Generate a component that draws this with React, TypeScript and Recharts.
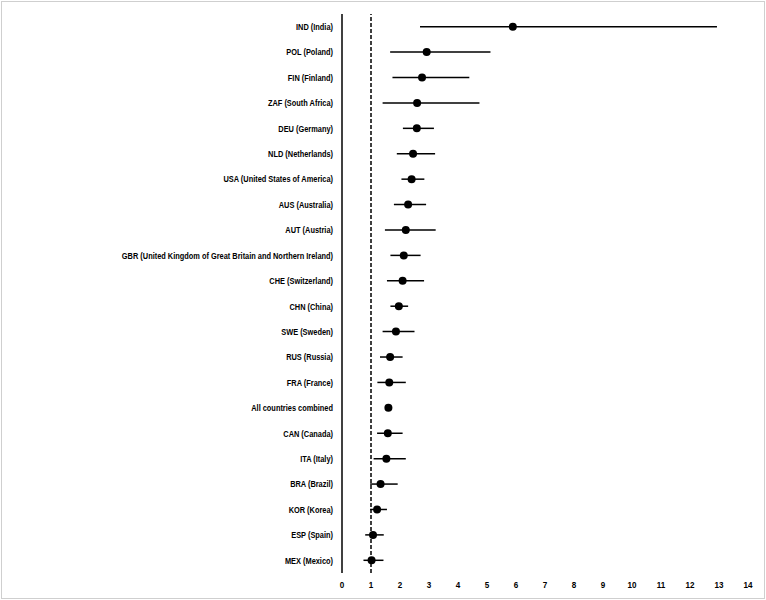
import React from 'react';
import { ScatterChart, Scatter, XAxis, YAxis, ErrorBar, ReferenceLine } from 'recharts';

const countries = [
  'IND (India)',
  'POL (Poland)',
  'FIN (Finland)',
  'ZAF (South Africa)',
  'DEU (Germany)',
  'NLD (Netherlands)',
  'USA (United States of America)',
  'AUS (Australia)',
  'AUT (Austria)',
  'GBR (United Kingdom of Great Britain and Northern Ireland)',
  'CHE (Switzerland)',
  'CHN (China)',
  'SWE (Sweden)',
  'RUS (Russia)',
  'FRA (France)',
  'All countries combined',
  'CAN (Canada)',
  'ITA (Italy)',
  'BRA (Brazil)',
  'KOR (Korea)',
  'ESP (Spain)',
  'MEX (Mexico)',
];

const estimates = [5.89, 2.92, 2.76, 2.59, 2.58, 2.45, 2.4, 2.28, 2.2, 2.13, 2.09, 1.96, 1.86, 1.66, 1.63, 1.6, 1.58, 1.53, 1.33, 1.21, 1.07, 1.02];
const lowerCI = [2.69, 1.66, 1.74, 1.4, 2.1, 1.89, 2.05, 1.79, 1.48, 1.67, 1.55, 1.67, 1.4, 1.31, 1.22, 1.6, 1.21, 1.09, 0.97, 0.97, 0.8, 0.74];
const upperCI = [12.93, 5.12, 4.39, 4.74, 3.17, 3.21, 2.84, 2.9, 3.23, 2.71, 2.83, 2.28, 2.5, 2.09, 2.2, 1.6, 2.09, 2.2, 1.92, 1.55, 1.44, 1.43];

const xTicks = [0, 1, 2, 3, 4, 5, 6, 7, 8, 9, 10, 11, 12, 13, 14];

const data = countries.map((name, i) => ({
  name,
  idx: i,
  value: estimates[i],
  err: [estimates[i] - lowerCI[i], upperCI[i] - estimates[i]],
}));

const FONT = '"Liberation Sans", Arial, sans-serif';

const Dot = (props: any) => {
  const { cx, cy } = props;
  if (cx == null || cy == null) return null;
  return <circle cx={cx} cy={cy} r={4} fill="#000" />;
};

const YTick = (props: any) => {
  const { x, y, payload } = props;
  const label = countries[payload.value] ?? '';
  return (
    <g transform={`translate(${x},${y})`}>
      <text
        transform="scale(0.78,1)"
        textAnchor="end"
        dy="0.35em"
        fill="#000"
        fontSize={9.5}
        fontWeight={700}
        fontFamily={FONT}
      >
        {label}
      </text>
    </g>
  );
};

const XTick = (props: any) => {
  const { x, y, payload } = props;
  return (
    <g transform={`translate(${x},${y})`}>
      <text
        transform="scale(0.85,1)"
        textAnchor="middle"
        dy="0.71em"
        fill="#000"
        fontSize={9.5}
        fontWeight={700}
        fontFamily={FONT}
      >
        {payload.value}
      </text>
    </g>
  );
};

export default function App() {
  return (
    <div
      style={{
        position: 'absolute',
        left: 1,
        top: 1,
        width: 764,
        height: 598,
        background: '#fff',
        boxSizing: 'border-box',
        border: '1px solid #cfcfcf',
        overflow: 'hidden',
      }}
    >
      <div style={{ position: 'absolute', left: -2, top: -2 }}>
        <ScatterChart width={766} height={600} margin={{ top: 14, right: 18, bottom: 0, left: 0 }}>
          <XAxis
            type="number"
            dataKey="value"
            domain={[0, 14]}
            ticks={xTicks}
            interval={0}
            axisLine={false}
            tickLine={false}
            tickSize={0}
            tickMargin={8}
            height={27}
            tick={<XTick />}
          />
          <YAxis
            type="number"
            dataKey="idx"
            domain={[-0.5, countries.length - 0.5]}
            ticks={countries.map((_, i) => i)}
            interval={0}
            reversed
            width={342}
            axisLine={{ stroke: '#000', strokeWidth: 1.5 }}
            tickLine={false}
            tickSize={0}
            tickMargin={9}
            tick={<YTick />}
          />
          <ReferenceLine x={1} stroke="#000" strokeWidth={1.5} strokeDasharray="4 2" ifOverflow="extendDomain" />
          <Scatter data={data} dataKey="value" shape={<Dot />} isAnimationActive={false}>
            <ErrorBar dataKey="err" direction="x" width={0} stroke="#000" strokeWidth={1.5} isAnimationActive={false} />
          </Scatter>
        </ScatterChart>
      </div>
    </div>
  );
}
